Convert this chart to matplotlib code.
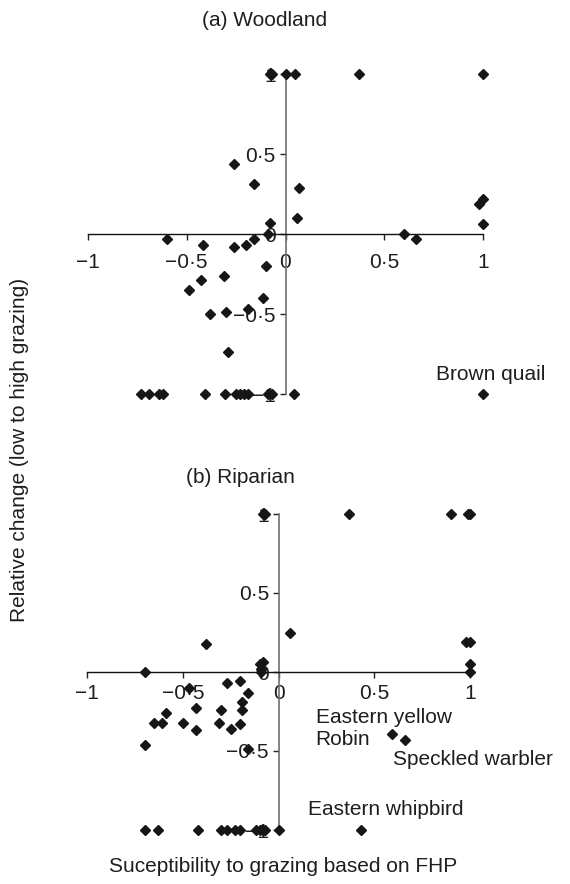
import matplotlib
matplotlib.use("Agg")
import matplotlib.pyplot as plt

plt.rcParams['font.family'] = ['Liberation Sans', 'DejaVu Sans']

# ---- Data ----
tick_vals = [-1, -0.5, 0, 0.5, 1]
tick_labels = ["\u22121", "\u22120\u00b75", "0", "0\u00b75", "1"]

wood_x = [-0.08, -0.07, 0.0, 0.05, 0.37, 1.0,
          -0.26, -0.16, 0.07, 0.06, -0.076, -0.09, -0.60, -0.42, -0.26, -0.20, -0.16,
          0.60, 0.66, 0.98, 1.0, 1.0,
          -0.10, -0.31, -0.43, -0.49, -0.115, -0.38, -0.30, -0.19, -0.29,
          -0.73, -0.69, -0.64, -0.62, -0.41, -0.305, -0.25, -0.23, -0.21, -0.19,
          -0.09, -0.07, 0.045, 1.0]
wood_y = [1, 1, 1, 1, 1, 1,
          0.44, 0.31, 0.29, 0.10, 0.07, 0.0, -0.03, -0.07, -0.08, -0.07, -0.03,
          0.0, -0.03, 0.19, 0.22, 0.06,
          -0.20, -0.26, -0.29, -0.35, -0.40, -0.50, -0.49, -0.47, -0.74,
          -1, -1, -1, -1, -1, -1, -1, -1, -1, -1,
          -1, -1, -1, -1]

rip_x = [-0.08, -0.07, 0.37, 0.90, 0.99, 1.0,
         -0.38, 0.06, -0.70, -0.08, -0.10, -0.09, -0.09, 0.98, 1.0, 1.0, 1.0,
         -0.27, -0.20, -0.16, -0.19, -0.19, -0.47, -0.43, -0.30, -0.59, -0.65,
         -0.61, -0.50, -0.43, -0.31, -0.25, -0.20, -0.70, -0.16, 0.59, 0.66,
         -0.70, -0.63, -0.42, -0.30, -0.27, -0.23, -0.20, -0.12, -0.10, -0.08,
         -0.07, 0.0, 0.43]
rip_y = [1, 1, 1, 1, 1, 1,
         0.18, 0.25, 0.0, 0.065, 0.05, 0.02, 0.0, 0.19, 0.19, 0.05, 0.0,
         -0.07, -0.06, -0.13, -0.19, -0.24, -0.10, -0.23, -0.24, -0.26, -0.32,
         -0.32, -0.32, -0.37, -0.32, -0.36, -0.33, -0.46, -0.49, -0.39, -0.43,
         -1, -1, -1, -1, -1, -1, -1, -1, -1, -1,
         -1, -1, -1]

W, H = 570, 884
fig = plt.figure(figsize=(W / 100, H / 100), dpi=100)

FS = 15
TXT = '#1e1e1e'


def make_ax(rect, xs, ys, xpad):
    ax = fig.add_axes(rect)
    ax.set_xlim(-1, 1)
    ax.set_ylim(-1, 1)
    ax.patch.set_visible(False)
    for s in ('top', 'right'):
        ax.spines[s].set_visible(False)
    ax.spines['left'].set_position(('data', 0))
    ax.spines['bottom'].set_position(('data', 0))
    ax.spines['left'].set_color('#707070')
    ax.spines['left'].set_linewidth(1.2)
    ax.spines['bottom'].set_color('#111111')
    ax.spines['bottom'].set_linewidth(1.0)
    ax.set_xticks(tick_vals)
    ax.set_xticklabels(tick_labels)
    ax.set_yticks(tick_vals)
    ax.set_yticklabels(tick_labels)
    ax.tick_params(axis='both', direction='out', length=4, width=1,
                   color='#222222', labelsize=FS, labelcolor=TXT, pad=3)
    ax.tick_params(axis='x', pad=xpad)
    ax.plot(xs, ys, linestyle='none', marker='D', markersize=5.0,
            color='#161616', clip_on=False, zorder=3)
    return ax


ax1 = make_ax([88 / W, 1 - 394 / H, (483 - 88) / W, (394 - 74) / H], wood_x, wood_y, 10)
ax2 = make_ax([87.3 / W, 1 - 830 / H, (470 - 87.3) / W, (830 - 514) / H], rip_x, rip_y, 4.5)

ax1.text(0.76, -0.88, "Brown quail", fontsize=FS, color=TXT, va='center', ha='left')

ax2.text(0.193, -0.36, "Eastern yellow\nRobin", fontsize=FS, color=TXT,
         va='center', ha='left', linespacing=1.2)
ax2.text(0.597, -0.552, "Speckled warbler", fontsize=FS, color=TXT, va='center', ha='left')
ax2.text(0.153, -0.872, "Eastern whipbird", fontsize=FS, color=TXT, va='center', ha='left')

fig.text(265 / W, 1 - 20 / H, "(a) Woodland", fontsize=FS, color=TXT, ha='center', va='center')
fig.text(240 / W, 1 - 478 / H, "(b) Riparian", fontsize=FS, color=TXT, ha='center', va='center')
fig.text(283 / W, 1 - 866 / H, "Suceptibility to grazing based on FHP", fontsize=FS,
         color=TXT, ha='center', va='center')
fig.text(20 / W, 1 - 450 / H, "Relative change (low to high grazing)", fontsize=FS,
         color=TXT, ha='center', va='center', rotation=90)

fig.savefig("out.png", dpi=100)
